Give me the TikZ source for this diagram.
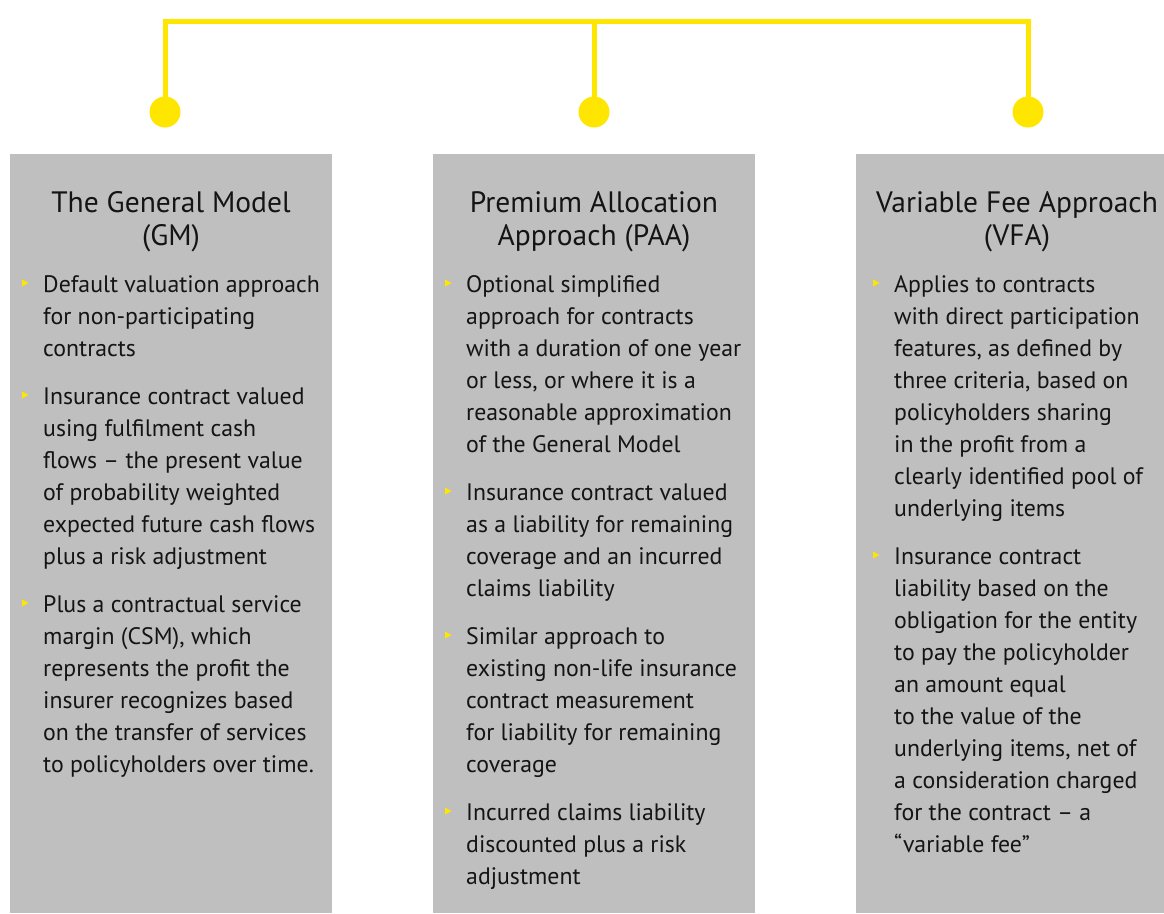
\documentclass[tikz,border=0pt]{standalone}
\usepackage{fontspec}
\setmainfont{PT Sans}
\definecolor{eyyellow}{HTML}{FFE600}
\definecolor{boxgray}{HTML}{BFBFBF}
\definecolor{inktext}{HTML}{141414}
\tikzset{
  panel/.style={draw=none, fill=boxgray, anchor=north west, inner sep=0pt, minimum height=759pt},
  yellowdot/.style={circle, fill=eyyellow, draw=none, minimum size=31pt, inner sep=0pt},
  conn/.style={draw=eyyellow, line width=5pt},
  titletext/.style={anchor=base, inner sep=0pt, text=inktext, font=\fontsize{29.5}{33}\selectfont},
  bodytext/.style={anchor=base west, inner sep=0pt, text=inktext, font=\fontsize{23.8}{32}\selectfont},
}
\newcommand\bulletpara[5]{%
  \fill[eyyellow] (#1,#3-12.5) -- (#1+6.5,#3-9) -- (#1,#3-5.5) -- cycle;
  \foreach \ln [count=\i from 0] in {#5} {
    \node[bodytext] (#4-\i) at (#2,#3+32*\i) {\ln};
  }%
}
\begin{document}
\begin{tikzpicture}[x=1pt,y=-1pt]
\useasboundingbox (0,0) rectangle (1164,913);
% panels
\node[panel, minimum width=322pt] (b1) at (10,154) {};
\node[panel, minimum width=322pt] (b2) at (433,154) {};
\node[panel, minimum width=308pt] (b3) at (856,154) {};
% connector
\node[yellowdot] (d1) at (165,112) {};
\node[yellowdot] (d2) at (594,112) {};
\node[yellowdot] (d3) at (1028,112) {};
\coordinate (t1) at (165,21);
\coordinate (t2) at (594,21);
\coordinate (t3) at (1028,21);
\draw[conn] (d1.center) -- (t1) -- (t3) -- (d3.center);
\draw[conn] (t2) -- (d2.center);
% titles
\node[titletext] (h1a) at (171,212) {The General Model};
\node[titletext] (h1b) at (171,245) {(GM)};
\node[titletext] (h2a) at (594,212) {Premium Allocation};
\node[titletext] (h2b) at (594,245) {Approach (PAA)};
\node[titletext] (h3a) at (1017,212) {Variable Fee Approach};
\node[titletext] (h3b) at (1017,245) {(VFA)};
% box 1
\bulletpara{22}{43}{292}{p11}{Default valuation approach, for non-participating, contracts}
\bulletpara{22}{43}{404}{p12}{Insurance contract valued, using fulfilment cash, flows – the present value, of probability weighted, expected future cash flows, plus a risk adjustment}
\bulletpara{22}{43}{612}{p13}{Plus a contractual service, {margin (CSM), which}, represents the profit the, insurer recognizes based, on the transfer of services, to policyholders over time.}
% box 2
\bulletpara{445}{466}{292}{p21}{Optional simplified, approach for contracts, with a duration of one year, {or less, or where it is a}, reasonable approximation, of the General Model}
\bulletpara{445}{466}{500}{p22}{Insurance contract valued, as a liability for remaining, coverage and an incurred, claims liability}
\bulletpara{445}{466}{644}{p23}{Similar approach to, existing non-life insurance, contract measurement, for liability for remaining, coverage}
\bulletpara{445}{466}{820}{p24}{Incurred claims liability, discounted plus a risk, adjustment}
% box 3
\bulletpara{873}{894}{292}{p31}{Applies to contracts, with direct participation, {features, as defined by}, {three criteria, based on}, policyholders sharing, in the profit from a, clearly identified pool of, underlying items}
\bulletpara{873}{894}{564}{p32}{Insurance contract, liability based on the, obligation for the entity, to pay the policyholder, an amount equal, to the value of the, {underlying items, net of}, a consideration charged, for the contract – a, “variable fee”}
\end{tikzpicture}
\end{document}
